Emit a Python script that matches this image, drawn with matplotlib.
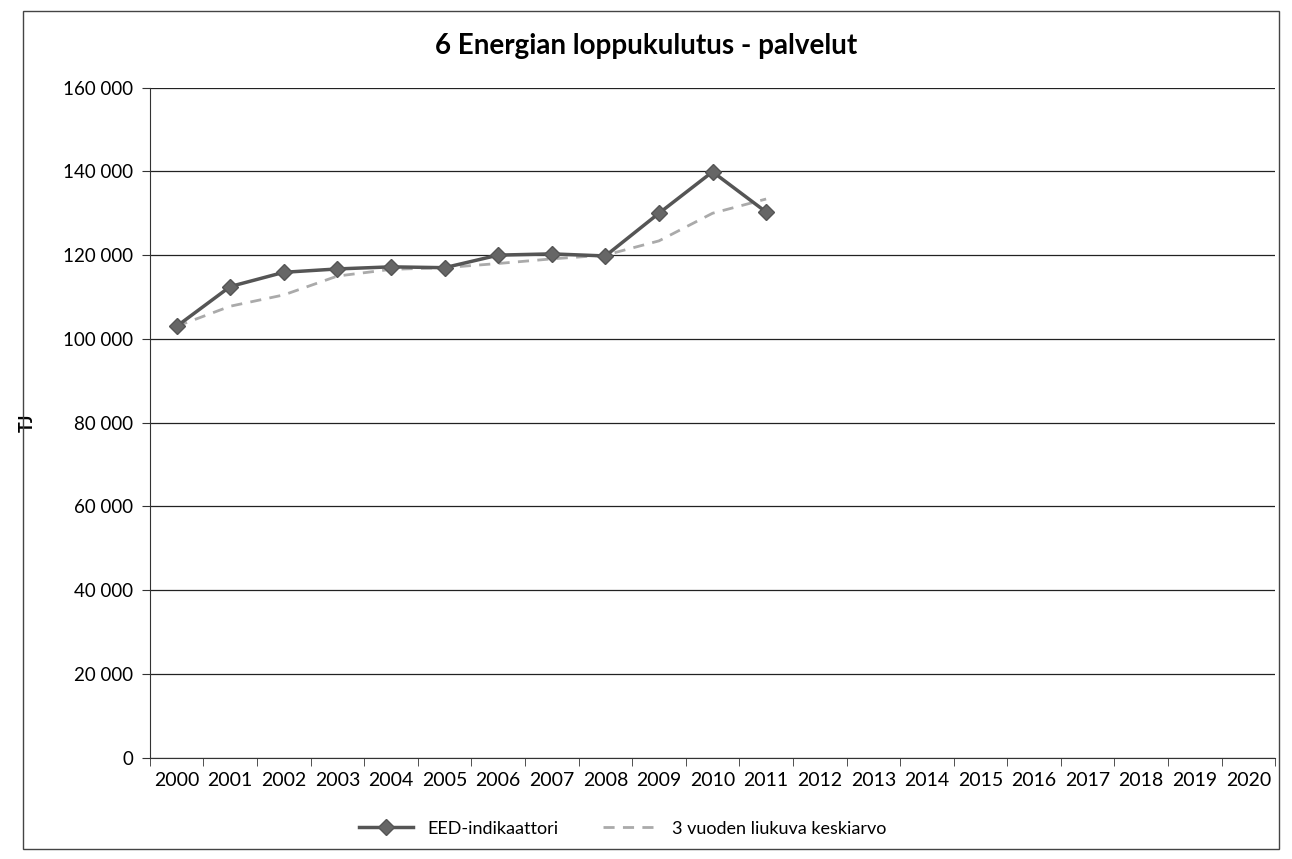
import matplotlib.pyplot as plt
from matplotlib.ticker import FuncFormatter, FixedLocator
from matplotlib.patches import Rectangle

# years on the category axis
years = [str(y) for y in range(2000, 2021)]
# EED indicator, TJ (data up to 2011)
eed = [103000, 112500, 115900, 116700, 117200, 117000, 120000, 120300, 119800, 130000, 139900, 130300]
# 3-year moving average, TJ
avg3 = [103000, 107800, 110500, 115000, 116600, 117000, 118000, 119100, 120000, 123400, 130000, 133400]

plt.rcParams['font.family'] = ['Lato', 'DejaVu Sans']

fig = plt.figure(figsize=(12.92, 8.59), dpi=100)
ax = fig.add_axes([0.116, 0.118, 0.871, 0.780])

x = list(range(len(eed)))
ax.plot(x, eed, color='#555555', lw=2.5, marker='D', ms=8,
        mfc='#666666', mec='#555555', label='EED-indikaattori', zorder=3)
ax.plot(list(range(len(avg3))), avg3, color='#aaaaaa', lw=2, ls=(0, (4, 3)),
        label='3 vuoden liukuva keskiarvo', zorder=2)

ax.set_xlim(-0.5, len(years) - 0.5)
ax.set_ylim(0, 160000)
ax.set_yticks(range(0, 160001, 20000))
ax.yaxis.set_major_formatter(FuncFormatter(lambda v, p: f'{int(v):,}'.replace(',', ' ')))
ax.set_xticks(range(len(years)))
ax.set_xticklabels(years)
ax.xaxis.set_minor_locator(FixedLocator([i - 0.5 for i in range(len(years) + 1)]))
ax.tick_params(axis='x', which='major', length=0, labelsize=14, pad=10)
ax.tick_params(axis='x', which='minor', length=6, color='#333333')
ax.tick_params(axis='y', length=6, labelsize=13.5, color='#333333', pad=6)

ax.grid(axis='y', color='#222222', lw=0.9)
for s in ['top', 'right']:
    ax.spines[s].set_visible(False)
ax.spines['left'].set_color('#333333')
ax.spines['bottom'].set_color('#333333')

ax.set_ylabel('TJ', fontsize=13, fontweight='bold', labelpad=20)
fig.suptitle('6 Energian loppukulutus - palvelut', fontsize=20, fontweight='bold', y=0.962)

ax.legend(loc='upper center', bbox_to_anchor=(0.42, -0.07), ncol=2, frameon=False,
          fontsize=13, handlelength=3, columnspacing=2.5)

fig.patches.append(Rectangle((0.018, 0.012), 0.972, 0.975, transform=fig.transFigure,
                             fill=False, ec='#444444', lw=1))

fig.savefig('out.png', dpi=100)
